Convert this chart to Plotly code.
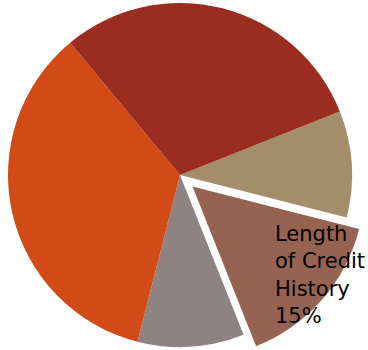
import plotly.graph_objects as go

# FICO score components, listed clockwise starting from the right-hand side
labels = ["New Credit", "Length of Credit History", "Types of Credit Used",
          "Payment History", "Amounts Owed"]
values = [10, 15, 10, 35, 30]
colors = ["#A38D6A", "#966352", "#8E8282", "#D14A18", "#9B2D20"]
highlight = "Length of Credit History"

W, H = 368, 360
ROT = 68.3          # start angle of the first slice (degrees clockwise from 12 o'clock)
CX, CY, R = 180, 175, 172   # pie centre / radius in pixels
DX, DY = 12.5, 11.5         # offset of the exploded slice in pixels


def dom(cx, cy, r):
    return dict(x=[(cx - r) / W, (cx + r) / W],
                y=[1 - (cy + r) / H, 1 - (cy - r) / H])


hi = labels.index(highlight)
base_colors = [("rgba(0,0,0,0)" if i == hi else c) for i, c in enumerate(colors)]
top_colors = [(c if i == hi else "rgba(0,0,0,0)") for i, c in enumerate(colors)]

fig = go.Figure()
fig.add_trace(go.Pie(
    labels=labels, values=values, sort=False, direction="clockwise",
    rotation=ROT, marker=dict(colors=base_colors, line=dict(width=0)),
    textinfo="none", hoverinfo="label+percent", showlegend=False,
    domain=dom(CX, CY, R),
))
fig.add_trace(go.Pie(
    labels=labels, values=values, sort=False, direction="clockwise",
    rotation=ROT, marker=dict(colors=top_colors, line=dict(width=0)),
    textinfo="none", hoverinfo="skip", showlegend=False,
    domain=dom(CX + DX, CY + DY, R),
))

label_text = "Length<br>of Credit<br>History<br>{}%".format(values[hi])
fig.add_annotation(
    text=label_text, showarrow=False, xref="paper", yref="paper",
    x=273 / W, y=1 - 220 / H, xanchor="left", yanchor="top", align="left",
    font=dict(family="DejaVu Sans", size=21, color="#000000"),
)

fig.update_layout(
    width=W, height=H, margin=dict(l=0, r=0, t=0, b=0),
    paper_bgcolor="white", plot_bgcolor="white",
)

fig.write_html("out.html", post_script="document.body.style.overflow='hidden';")
